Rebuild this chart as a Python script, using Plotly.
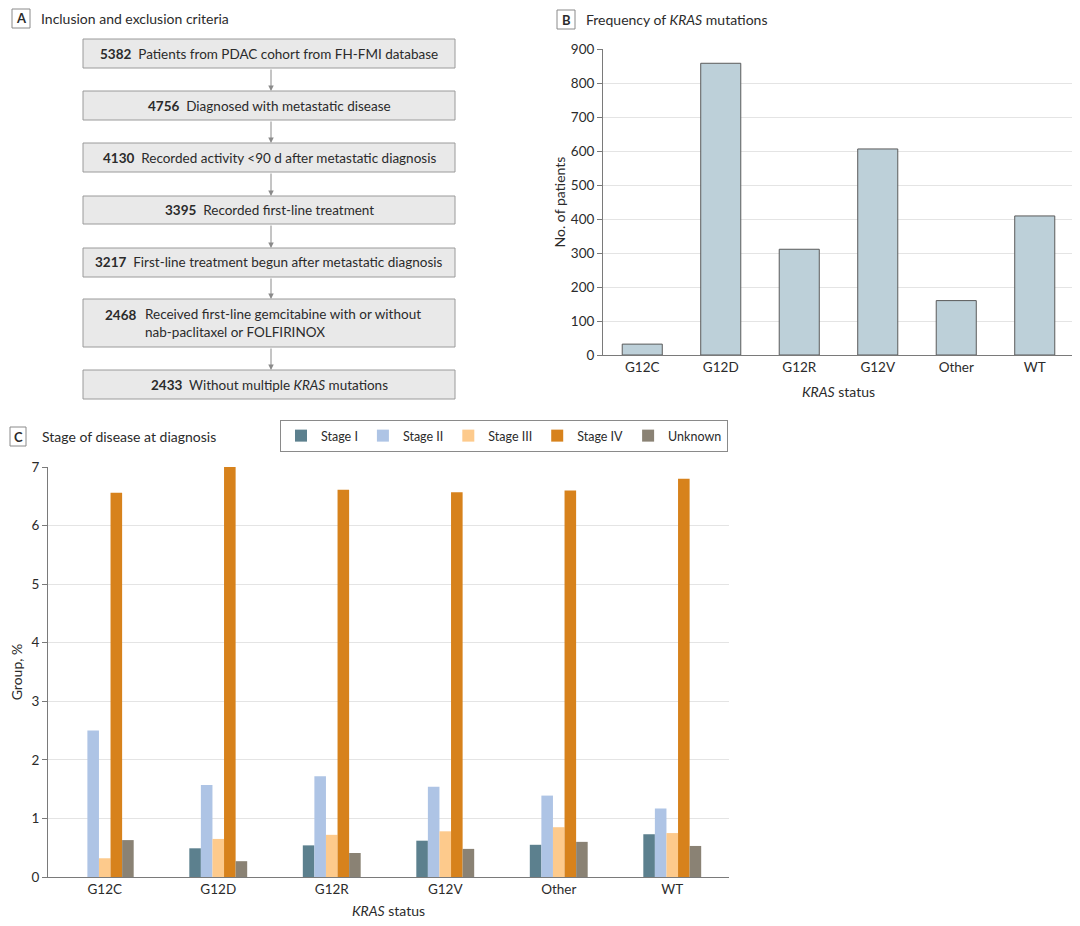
import plotly.graph_objects as go

W, H = 1080, 926
FONT = "Lato"
INK = "#2b2b2b"

# ---- data ----
# A: flowchart
flow_counts = [5382, 4756, 4130, 3395, 3217, 2468, 2433]
flow_labels = [
    "Patients from PDAC cohort from FH-FMI database",
    "Diagnosed with metastatic disease",
    "Recorded activity &lt;90 d after metastatic diagnosis",
    "Recorded first-line treatment",
    "First-line treatment begun after metastatic diagnosis",
    "Received first-line gemcitabine with or without<br>nab-paclitaxel or FOLFIRINOX",
    "Without multiple <i>KRAS</i> mutations",
]

# B: frequency of KRAS mutations
kras_status = ["G12C", "G12D", "G12R", "G12V", "Other", "WT"]
n_patients = [32, 858, 311, 606, 160, 409]

# C: stage of disease at diagnosis (group, %)
stage_names = ["Stage I", "Stage II", "Stage III", "Stage IV", "Unknown"]
stage_i = [0, 0.49, 0.54, 0.62, 0.55, 0.73]
stage_ii = [2.50, 1.57, 1.72, 1.54, 1.39, 1.17]
stage_iii = [0.32, 0.65, 0.72, 0.78, 0.85, 0.75]
stage_iv = [6.56, 7.02, 6.61, 6.57, 6.60, 6.80]
stage_unknown = [0.63, 0.27, 0.41, 0.48, 0.60, 0.53]
stage_colors = ["#5c808e", "#aec4e5", "#fdca8c", "#d7821c", "#8a8274"]

# ---- helpers: page pixel -> paper (page body adds an 8px margin) ----
OFF = 8

def px(x):
    return (x - OFF) / W

def py(y):
    return 1 - (y - OFF) / H

fig = go.Figure()

# panel B bars
fig.add_trace(go.Bar(
    x=kras_status, y=n_patients, xaxis="x", yaxis="y",
    marker=dict(color="#bdd0d9", line=dict(color="#5a5a5a", width=1)),
    showlegend=False, hoverinfo="x+y",
))

# panel C grouped bars
for name, vals, col in zip(stage_names,
                           [stage_i, stage_ii, stage_iii, stage_iv, stage_unknown],
                           stage_colors):
    fig.add_trace(go.Bar(
        x=kras_status, y=vals, name=name, xaxis="x2", yaxis="y2",
        marker=dict(color=col, line=dict(width=0)),
    ))

shapes = []
annotations = []

# panel A boxes (pixel layout: top, bottom)
box_rows = [(39, 68), (91, 120), (143, 172), (196, 224), (248, 277), (299, 347), (370, 399)]
bx0, bx1 = 83, 455
for i, (t, b) in enumerate(box_rows):
    shapes.append(dict(type="rect", xref="paper", yref="paper",
                       x0=px(bx0), x1=px(bx1), y0=py(b), y1=py(t),
                       fillcolor="#e9e9e9", line=dict(color="#9a9a9a", width=1)))
    if "<br>" in flow_labels[i]:
        annotations.append(dict(xref="paper", yref="paper", x=px(138), y=py(t + 16),
                                xanchor="right", yanchor="middle", showarrow=False,
                                text="<b>%d</b>" % flow_counts[i],
                                font=dict(family=FONT, size=13.5, color=INK)))
        annotations.append(dict(xref="paper", yref="paper", x=px(143), y=py((t + b) / 2),
                                xanchor="left", yanchor="middle", align="left",
                                showarrow=False, text=flow_labels[i],
                                font=dict(family=FONT, size=13.5, color=INK)))
    else:
        annotations.append(dict(xref="paper", yref="paper", x=px((bx0 + bx1) / 2),
                                y=py((t + b) / 2), xanchor="center", yanchor="middle",
                                showarrow=False,
                                text="<b>%d</b>&nbsp; %s" % (flow_counts[i], flow_labels[i]),
                                font=dict(family=FONT, size=13.5, color=INK)))
    if i < len(box_rows) - 1:
        nt = box_rows[i + 1][0]
        annotations.append(dict(xref="paper", yref="paper", x=px(271), y=py(nt),
                                axref="pixel", ayref="pixel", ax=0, ay=-(nt - b),
                                showarrow=True, arrowhead=2, arrowsize=1.1,
                                arrowwidth=1, arrowcolor="#8a8a8a", text=""))

# panel letters and titles
for letter, (x0, y0, x1, y1), title, tx in [
    ("A", (12, 9, 30, 28), "Inclusion and exclusion criteria", 39),
    ("B", (557, 10, 575, 29), "Frequency of <i>KRAS</i> mutations", 584),
    ("C", (10, 427, 26, 446), "Stage of disease at diagnosis", 40),
]:
    shapes.append(dict(type="rect", xref="paper", yref="paper",
                       x0=px(x0), x1=px(x1), y0=py(y1), y1=py(y0),
                       fillcolor="white", line=dict(color="#8a8a8a", width=1)))
    annotations.append(dict(xref="paper", yref="paper", x=px((x0 + x1) / 2),
                            y=py((y0 + y1) / 2), xanchor="center", yanchor="middle",
                            showarrow=False, text="<b>%s</b>" % letter,
                            font=dict(family=FONT, size=13, color=INK)))
    annotations.append(dict(xref="paper", yref="paper", x=px(tx),
                            y=py((y0 + y1) / 2), xanchor="left", yanchor="middle",
                            showarrow=False, text=title,
                            font=dict(family=FONT, size=14, color=INK)))

axis_common = dict(
    tickfont=dict(family=FONT, size=13.5, color=INK),
    showline=True, linecolor="#7a7a7a", linewidth=1,
    zeroline=False, automargin=False,
)

fig.update_layout(
    template="none",
    width=W, height=H,
    margin=dict(l=0, r=0, t=0, b=0, autoexpand=False),
    paper_bgcolor="white", plot_bgcolor="white",
    font=dict(family=FONT, size=13, color=INK),
    barmode="group",
    bargap=0.49, bargroupgap=0,
    shapes=shapes,
    annotations=annotations,
    xaxis=dict(domain=[px(603), px(1074)], anchor="y", ticks="", showgrid=False,
               title=dict(text="<i>KRAS</i> status", standoff=12,
                          font=dict(family=FONT, size=14, color=INK)),
               **axis_common),
    yaxis=dict(domain=[py(355), py(49)], anchor="x", range=[0, 900], dtick=100,
               ticks="outside", ticklen=5, tickcolor="#7a7a7a",
               showgrid=True, gridcolor="#e4e4e4",
               title=dict(text="No. of patients", standoff=1,
                          font=dict(family=FONT, size=14, color=INK)),
               **axis_common),
    xaxis2=dict(domain=[px(48), px(729)], anchor="y2", ticks="", showgrid=False,
                title=dict(text="<i>KRAS</i> status", standoff=9,
                           font=dict(family=FONT, size=14, color=INK)),
                **axis_common),
    yaxis2=dict(domain=[py(877), py(467)], anchor="x2", range=[0, 7], dtick=1,
                ticks="outside", ticklen=5, tickcolor="#7a7a7a",
                showgrid=True, gridcolor="#e4e4e4",
                title=dict(text="Group, %", standoff=14,
                           font=dict(family=FONT, size=14, color=INK)),
                **axis_common),
    legend=dict(orientation="h", x=px(728), xanchor="right", y=py(420), yanchor="top",
                bordercolor="#8a8a8a", borderwidth=1, bgcolor="white",
                font=dict(family=FONT, size=12.5, color=INK),
                itemwidth=30, traceorder="normal"),
)

fig.write_html("out.html")
